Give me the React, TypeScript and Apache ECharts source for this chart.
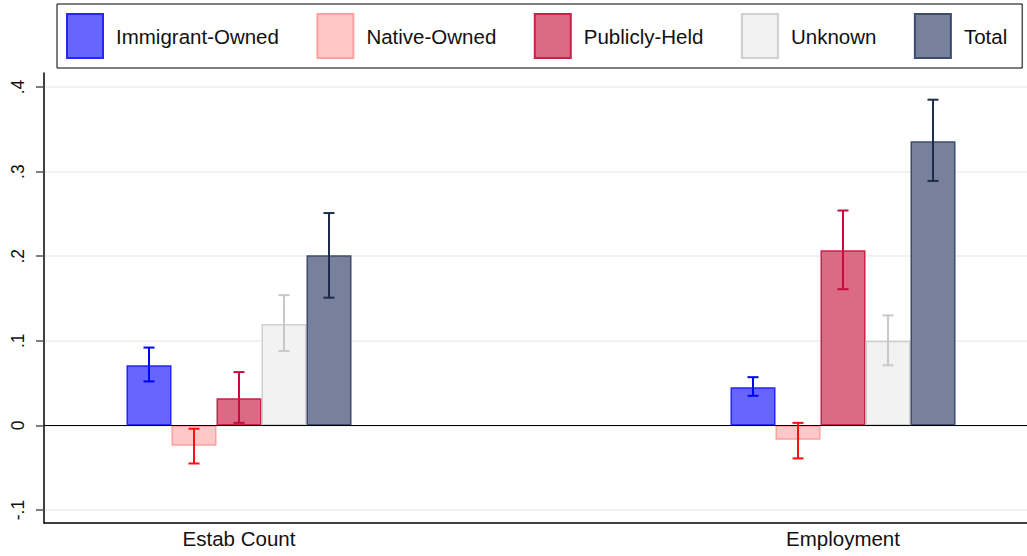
import React, { useEffect, useRef } from "react";
import * as echarts from "echarts";

const categories = ["Estab Count", "Employment"];
const seriesNames = ["Immigrant-Owned", "Native-Owned", "Publicly-Held", "Unknown", "Total"];

const immigrantVals = [0.071, 0.045];
const immigrantLo = [0.052, 0.035];
const immigrantHi = [0.092, 0.057];

const nativeVals = [-0.024, -0.017];
const nativeLo = [-0.045, -0.039];
const nativeHi = [-0.004, 0.003];

const publicVals = [0.032, 0.207];
const publicLo = [0.003, 0.161];
const publicHi = [0.063, 0.254];

const unknownVals = [0.12, 0.1];
const unknownLo = [0.088, 0.071];
const unknownHi = [0.154, 0.13];

const totalVals = [0.201, 0.336];
const totalLo = [0.151, 0.289];
const totalHi = [0.251, 0.385];

const yTicks = [-0.1, 0, 0.1, 0.2, 0.3, 0.4];
const yTickLabels = ["-.1", "0", ".1", ".2", ".3", ".4"];

const fills = ["#6666fe", "#ffc8c8", "#db6a84", "#f2f2f2", "#78819b"];
const borders = ["#2525ff", "#ffa0a0", "#c8224a", "#cfcfcf", "#3e4b6c"];
const errColors = ["#0000ff", "#ff1010", "#c80a3c", "#c8c8c8", "#1e2b4d"];

const vals = [immigrantVals, nativeVals, publicVals, unknownVals, totalVals];
const los = [immigrantLo, nativeLo, publicLo, unknownLo, totalLo];
const his = [immigrantHi, nativeHi, publicHi, unknownHi, totalHi];

const FONT = "'Liberation Sans', Arial, sans-serif";
const BAR_W = 45;

export default function App() {
  const ref = useRef<HTMLDivElement>(null);
  useEffect(() => {
    document.body.style.margin = "0";
    const chart = echarts.init(ref.current!, undefined, { renderer: "svg" });

    const barSeries = seriesNames.map((name, k) => ({
      name,
      type: "bar",
      xAxisIndex: 2,
      yAxisIndex: 2,
      barWidth: BAR_W,
      barGap: "0%",
      data: vals[k],
      itemStyle: { color: fills[k], borderColor: borders[k], borderWidth: 1.5 },
      z: 3,
    }));

    const errSeries = seriesNames.map((name, k) => ({
      name: name + " CI",
      type: "custom",
      xAxisIndex: 2,
      yAxisIndex: 2,
      z: 5,
      data: categories.map((_, i) => [i, los[k][i], his[k][i]]),
      renderItem: (params: any, api: any) => {
        const ci = api.value(0);
        const lo = api.coord([ci, api.value(1)]);
        const hi = api.coord([ci, api.value(2)]);
        const x = lo[0] + (k - 2) * BAR_W;
        const cap = 5.5;
        const style = { stroke: errColors[k], lineWidth: 2 };
        return {
          type: "group",
          children: [
            { type: "line", shape: { x1: x, y1: lo[1], x2: x, y2: hi[1] }, style },
            { type: "line", shape: { x1: x - cap, y1: lo[1], x2: x + cap, y2: lo[1] }, style },
            { type: "line", shape: { x1: x - cap, y1: hi[1], x2: x + cap, y2: hi[1] }, style },
          ],
        };
      },
    }));

    const option: any = {
      animation: false,
      backgroundColor: "#ffffff",
      textStyle: { fontFamily: FONT },
      legend: {
        data: seriesNames,
        left: 57,
        top: 4,
        padding: [9, 15, 9, 9],
        borderColor: "#000",
        borderWidth: 1,
        itemWidth: 36,
        itemHeight: 44,
        itemGap: 37.5,
        icon: "rect",
        textStyle: { fontSize: 20.5, color: "#111", fontFamily: FONT, padding: [0, 0, 0, 8] },
      },
      grid: [
        { left: 44, right: 0, top: 87, bottom: 46, outerBoundsMode: "none" },
        { left: 44, right: 0, top: 73, bottom: 33, outerBoundsMode: "none" },
        { left: -63, width: 1208, top: 87, bottom: 46, outerBoundsMode: "none" },
      ],
      xAxis: [
        { type: "value", gridIndex: 0, min: 0, max: 1, show: false },
        {
          type: "value",
          gridIndex: 1,
          min: 0,
          max: 1,
          axisLine: { show: true, lineStyle: { color: "#000", width: 1.5 } },
          axisTick: { show: false },
          axisLabel: { show: false },
          splitLine: { show: false },
        },
        {
          type: "category",
          gridIndex: 2,
          data: categories,
          axisLine: { show: false },
          axisTick: { show: false },
          axisLabel: { fontSize: 20.5, color: "#111", margin: 18, fontFamily: FONT },
        },
      ],
      yAxis: [
        {
          type: "value",
          gridIndex: 0,
          min: -0.1,
          max: 0.4,
          interval: 0.1,
          axisLine: { show: false },
          axisTick: { show: true, length: 8, lineStyle: { color: "#555", width: 1.5 } },
          axisLabel: {
            rotate: 90,
            fontSize: 17.5,
            color: "#111",
            margin: 17,
            fontFamily: FONT,
            formatter: (v: number) => {
              let best = 0;
              yTicks.forEach((t, i) => {
                if (Math.abs(t - v) < Math.abs(yTicks[best] - v)) best = i;
              });
              return yTickLabels[best];
            },
          },
          splitLine: { show: true, lineStyle: { color: "#e8eff1", width: 1.5 } },
        },
        {
          type: "value",
          gridIndex: 1,
          min: 0,
          max: 1,
          axisLine: { show: true, lineStyle: { color: "#000", width: 1.5 } },
          axisTick: { show: false },
          axisLabel: { show: false },
          splitLine: { show: false },
        },
        { type: "value", gridIndex: 2, min: -0.1, max: 0.4, show: false, splitLine: { show: false } },
      ],
      series: [
        {
          name: "zero",
          type: "line",
          xAxisIndex: 0,
          yAxisIndex: 0,
          data: [],
          silent: true,
          markLine: {
            silent: true,
            symbol: "none",
            label: { show: false },
            lineStyle: { color: "#000", width: 1, type: "solid" },
            data: [{ yAxis: 0 }],
          },
        },
        ...barSeries,
        ...errSeries,
      ],
    };
    chart.setOption(option);
    return () => chart.dispose();
  }, []);
  return <div ref={ref} style={{ width: 1027, height: 556 }} />;
}
